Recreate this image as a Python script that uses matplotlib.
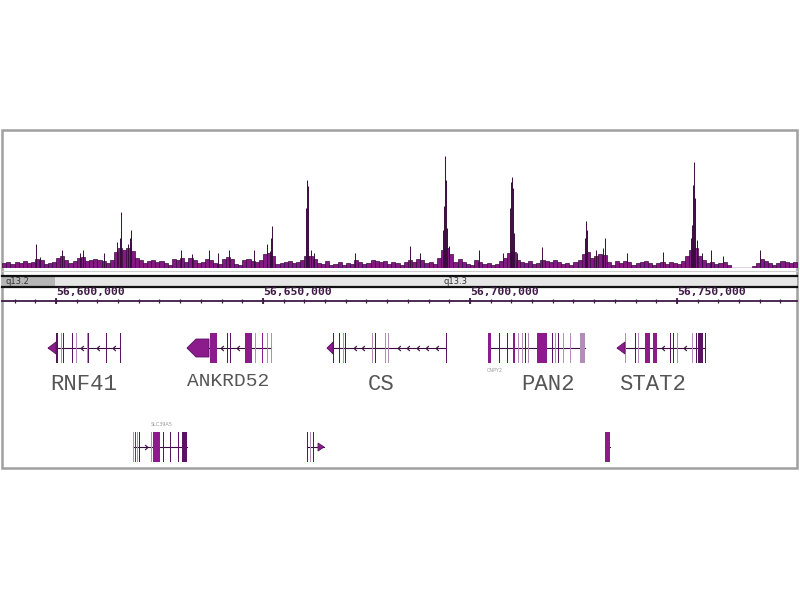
import numpy as np
import matplotlib
matplotlib.use('Agg')
import matplotlib.pyplot as plt
from matplotlib.patches import Rectangle, Polygon
from matplotlib.path import Path

# ---------------- data ----------------
# ChIP-seq signal, background in 1 kb bins starting at 56,587 kb
bin_start_kb = 56587
bg_signal = [5, 6, 4, 6, 5, 7, 5, 6, 9, 8,
             4, 5, 6, 10, 12, 8, 5, 7, 10, 11,
             7, 8, 9, 8, 7, 5, 8, 16, 20, 18,
             20, 17, 10, 8, 5, 7, 8, 6, 7, 5,
             3, 9, 8, 10, 6, 10, 8, 5, 6, 9,
             8, 5, 4, 9, 11, 9, 4, 3, 8, 9,
             7, 6, 8, 14, 15, 12, 4, 5, 6, 7,
             5, 6, 8, 12, 12, 9, 5, 4, 7, 3,
             4, 6, 3, 5, 4, 8, 6, 4, 5, 8,
             7, 6, 7, 4, 6, 5, 3, 6, 8, 6,
             9, 8, 5, 6, 4, 10, 18, 20, 14, 6,
             9, 6, 4, 3, 8, 6, 4, 5, 3, 4,
             7, 10, 15, 16, 8, 6, 5, 7, 4, 5,
             8, 7, 6, 8, 6, 4, 5, 3, 6, 8,
             14, 16, 10, 12, 14, 13, 6, 3, 7, 5,
             7, 6, 3, 5, 6, 7, 5, 3, 5, 6,
             4, 6, 5, 4, 7, 12, 18, 20, 12, 8,
             5, 6, 4, 5, 6, 3, 0, 0, 0, 0,
             0, 2, 5, 9, 7, 5, 3, 5, 7, 6,
             5, 6]

# narrow spikes (position in kb, height)
spike_kb = [56595.17, 56596.14, 56601.45, 56605.80, 56606.52, 56611.59,
            56614.73, 56615.46, 56615.70, 56617.39, 56617.87, 56618.12,
            56630.19, 56632.85, 56636.96, 56639.13, 56641.79, 56647.83,
            56650.97, 56651.69, 56651.93, 56652.17,
            56660.39, 56660.63, 56660.87, 56661.60, 56662.32, 56672.22,
            56685.51, 56687.92,
            56693.48, 56693.72, 56693.96, 56694.20, 56694.45, 56694.93,
            56702.18, 56707.97,
            56709.66, 56709.91, 56710.15, 56710.39, 56710.63, 56711.35,
            56717.39, 56727.78, 56728.02, 56728.26, 56730.44,
            56732.13, 56732.61, 56737.93, 56746.62,
            56753.38, 56753.63, 56753.87, 56754.11, 56754.35, 56754.83,
            56756.04, 56758.22, 56761.11, 56770.05]
spike_h = [24, 11, 18, 15, 18, 15,
           26, 30, 56, 24, 30, 38,
           18, 14, 18, 15, 18, 18,
           24, 17, 30, 42,
           60, 88, 82, 18, 15, 15,
           22, 15,
           38, 62, 112, 88, 40, 22,
           18, 15,
           60, 86, 91, 80, 35, 15,
           21, 30, 47, 38, 18,
           20, 30, 15, 16,
           30, 43, 83, 106, 70, 28,
           15, 18, 12, 18]

# ruler
major_ticks_kb = [56600, 56650, 56700, 56750]

# cytobands
band_names = ['q13.2', 'q13.3']

# genes (kb)
genes = [
    dict(name='RNF41', strand='-', row=0, start=56598.07, end=56615.46,
         ex_s=[56600.00, 56601.21, 56601.69, 56603.86, 56604.83, 56607.49,
               56607.73, 56612.08, 56615.46],
         ex_e=[56600.40, 56601.56, 56602.04, 56604.21, 56605.18, 56607.74,
               56608.00, 56612.43, 56615.76],
         shade='dlddllddd', arrow=(56598.07, 56600.00, 56600.00, 6),
         label_kb=56606.6, small=False),
    dict(name='ANKRD52', strand='-', row=0, start=56631.64, end=56651.93,
         ex_s=[56637.20, 56641.31, 56642.03, 56645.65, 56648.07, 56649.76,
               56650.97, 56651.93],
         ex_e=[56638.89, 56641.66, 56642.38, 56647.34, 56648.42, 56650.11,
               56651.32, 56652.28],
         shade='mddmlmll', arrow=(56631.64, 56633.82, 56636.96, 9),
         label_kb=56641.6, small=True),
    dict(name='CS', strand='-', row=0, start=56665.46, end=56694.20,
         ex_s=[56666.91, 56668.36, 56669.32, 56669.81, 56676.33, 56677.05,
               56679.47, 56680.19, 56694.20],
         ex_e=[56667.26, 56668.71, 56669.67, 56670.16, 56676.68, 56677.40,
               56679.82, 56680.54, 56694.50],
         shade='ddldldlld', arrow=(56665.46, 56666.91, 56666.91, 6),
         label_kb=56678.6, small=False),
    dict(name='PAN2', strand='-', row=0, start=56704.35, end=56727.78,
         ex_s=[56704.35, 56707.01, 56708.94, 56710.39, 56711.60, 56712.56,
               56713.29, 56714.01, 56716.19, 56719.81, 56720.53, 56721.26,
               56722.47, 56724.16, 56726.57],
         ex_e=[56705.07, 56707.36, 56709.29, 56710.87, 56711.95, 56712.91,
               56713.64, 56714.36, 56718.60, 56720.16, 56720.88, 56721.61,
               56722.82, 56724.51, 56727.78],
         shade='mddmlldlmdldlll', arrow=None,
         label_kb=56718.8, small=False),
    dict(name='STAT2', strand='-', row=0, start=56735.51, end=56756.77,
         ex_s=[56737.44, 56739.86, 56740.58, 56742.27, 56744.21, 56748.31,
               56749.04, 56750.00, 56753.63, 56754.59, 56755.08, 56756.77],
         ex_e=[56737.79, 56740.21, 56740.93, 56743.48, 56745.17, 56748.66,
               56749.39, 56750.35, 56753.98, 56754.94, 56756.28, 56757.12],
         shade='ldlmmddllddd', arrow=(56735.51, 56737.44, 56737.44, 6),
         label_kb=56744.2, small=False),
    dict(name='SLC39A5', strand='+', row=1, start=56618.60, end=56631.64,
         ex_s=[56618.60, 56619.08, 56619.57, 56620.05, 56622.95, 56623.43,
               56625.85, 56627.54, 56629.47, 56630.44],
         ex_e=[56618.90, 56619.38, 56619.87, 56620.35, 56623.25, 56625.12,
               56626.15, 56627.84, 56629.77, 56631.64],
         shade='lmldlmdddd', arrow=None, label_kb=56624.4, small=True),
    dict(name='COQ10A', strand='+', row=1, start=56660.63, end=56664.74,
         ex_s=[56660.63, 56661.35, 56662.08],
         ex_e=[56660.98, 56661.70, 56662.43],
         shade='dld', arrow=(56664.74, 56663.29, 56663.29, 4),
         label_kb=None, small=True),
    dict(name='IL23A', strand='+', row=1, start=56732.61, end=56733.82,
         ex_s=[56732.61],
         ex_e=[56733.82],
         shade='m', arrow=None, label_kb=None, small=True),
]
small_labels = [('CNPY2', 56706.0, 370), ('SLC39A5', 56625.4, 424)]

# ---------------- layout ----------------
W, H = 800, 600
KB_PER_PX = 0.24155
X0_KB = 56600 - 56 * KB_PER_PX
X1_KB = X0_KB + W * KB_PER_PX


def px2kb(px):
    return X0_KB + px * KB_PER_PX


PURPLE = '#831a84'
DARK = '#3a0b3e'
SHADES = {'d': '#5a1262', 'm': '#8c1c8c', 'l': '#b48cb8'}
RULER = '#3f1a46'

fig = plt.figure(figsize=(8, 6), dpi=100)
ax = fig.add_axes([0, 0, 1, 1])
ax.set_xlim(X0_KB, X1_KB)
ax.set_ylim(H, 0)
ax.axis('off')

frame_l, frame_r = px2kb(2), px2kb(797)

# frame
ax.add_patch(Rectangle((frame_l, 130), frame_r - frame_l, 338,
                       fill=False, edgecolor='#a0a0a0', linewidth=1.8))

# signal track
base_y = 268
sig_h = 120
sax = fig.add_axes([0, (H - base_y) / H, 1, sig_h / H])
sax.set_xlim(X0_KB, X1_KB)
sax.set_ylim(0, sig_h)
sax.axis('off')
sax.patch.set_alpha(0)
bin_left = bin_start_kb + np.arange(len(bg_signal))
sax.bar(bin_left, bg_signal, width=1.0, align='edge', color=PURPLE,
        edgecolor=DARK, linewidth=0.5)
sax.bar(spike_kb, spike_h, width=0.22, align='center', color=PURPLE,
        edgecolor=DARK, linewidth=0.7)
sax.plot([frame_l, frame_r], [0.3, 0.3], color=PURPLE, linewidth=1.0)

# gray thin line under signal
ax.plot([frame_l, frame_r], [270.5, 270.5], color='#cccccc', linewidth=0.8)

# chromosome ideogram strip
ax.add_patch(Rectangle((frame_l, 277), frame_r - frame_l, 9,
                       facecolor='#e6e6e6', edgecolor='none'))
ax.add_patch(Rectangle((frame_l, 277), px2kb(55) - frame_l, 9,
                       facecolor='#b6b6b6', edgecolor='none'))
ax.plot([frame_l, frame_r], [276.3, 276.3], color='#111111', linewidth=1.6)
ax.plot([frame_l, frame_r], [286.7, 286.7], color='#111111', linewidth=1.6)
ax.text(px2kb(5), 281.8, band_names[0], fontsize=6, color='#333333',
        va='center', ha='left', family='DejaVu Sans')
ax.text(px2kb(443), 282.0, band_names[1], fontsize=6, color='#333333',
        va='center', ha='left', family='DejaVu Sans')

# ruler
ax.plot([frame_l, frame_r], [300.6, 300.6], color=RULER, linewidth=1.3)
minor = np.arange(56590, 56779, 5)
ax.vlines(minor, 298.5, 302.8, color=RULER, linewidth=0.9)
ax.vlines(major_ticks_kb, 297.5, 304.0, color=RULER, linewidth=1.3)
for t in major_ticks_kb:
    ax.text(t, 292.5, f"{t * 1000:,.0f}", fontsize=8.2, fontweight='bold',
            family='DejaVu Sans Mono', color=RULER, ha='left', va='center')

# chevron markers
left_chev = Path([(0.55, 1.0), (-0.55, 0.0), (0.55, -1.0)],
                 [Path.MOVETO, Path.LINETO, Path.LINETO])
right_chev = Path([(-0.55, 1.0), (0.55, 0.0), (-0.55, -1.0)],
                  [Path.MOVETO, Path.LINETO, Path.LINETO])

row_y = [348, 447]
EXON_HALF = 15
for g in genes:
    yc = row_y[g['row']]
    ax.plot([g['start'], g['end']], [yc, yc], color=DARK, linewidth=0.8,
            zorder=2)
    chev_x = []
    edges = sorted(zip(g['ex_s'], g['ex_e']))
    for (s0, e0), (s1, e1) in zip(edges[:-1], edges[1:]):
        gap = s1 - e0
        n = int(gap / 2.3)
        if n >= 1:
            chev_x.extend(list(np.linspace(e0, s1, n + 2)[1:-1]))
    if chev_x:
        ax.plot(chev_x, [yc] * len(chev_x), linestyle='none',
                marker=left_chev if g['strand'] == '-' else right_chev,
                markersize=3.6, markeredgewidth=0.8, color=DARK,
                fillstyle='none', zorder=3)
    for s, e, sh in zip(g['ex_s'], g['ex_e'], g['shade']):
        ax.add_patch(Rectangle((s, yc - EXON_HALF), e - s, 2 * EXON_HALF,
                               facecolor=SHADES[sh], edgecolor='none',
                               zorder=4))
    if g['arrow'] is not None:
        tip, sh_x, end, hh = g['arrow']
        if sh_x == end:
            pts = [(tip, yc), (end, yc - hh), (end, yc + hh)]
        else:
            pts = [(tip, yc), (sh_x, yc - hh), (end, yc - hh),
                   (end, yc + hh), (sh_x, yc + hh)]
        ax.add_patch(Polygon(pts, closed=True, facecolor=SHADES['m'],
                             edgecolor=SHADES['d'], linewidth=0.6, zorder=5))
    if g['label_kb'] is not None and g['row'] == 0:
        ax.text(g['label_kb'], 381 if g['small'] else 385, g['name'],
                fontsize=14 if g['small'] else 16, family='Liberation Mono',
                color='#555555', ha='center', va='center')

for txt, xk, yy in small_labels:
    ax.text(xk, yy, txt, fontsize=3.5, color='#9a9a9a', ha='center',
            va='center', family='DejaVu Sans')

fig.savefig('out.png', dpi=100, facecolor='white')
